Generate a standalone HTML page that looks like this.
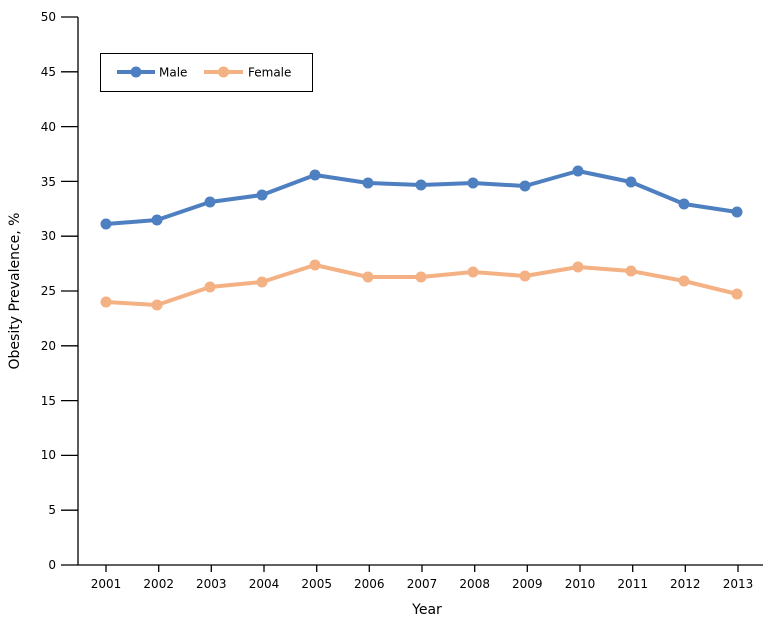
<!DOCTYPE html>
<html><head><meta charset="utf-8"><style>
html,body{margin:0;padding:0;background:#fff;}
svg{display:block;font-family:"DejaVu Sans","Liberation Sans",sans-serif;}
</style></head><body>
<svg width="768" height="620" viewBox="0 0 768 620" xmlns="http://www.w3.org/2000/svg">
<g stroke="#000" stroke-width="1.3" fill="none">
<line x1="78" y1="17" x2="78" y2="565"/>
<line x1="61" y1="565" x2="763" y2="565"/>
<line x1="61" y1="17" x2="78" y2="17"/>
<line x1="61" y1="71.8" x2="78" y2="71.8"/>
<line x1="61" y1="126.6" x2="78" y2="126.6"/>
<line x1="61" y1="181.4" x2="78" y2="181.4"/>
<line x1="61" y1="236.2" x2="78" y2="236.2"/>
<line x1="61" y1="291" x2="78" y2="291"/>
<line x1="61" y1="345.8" x2="78" y2="345.8"/>
<line x1="61" y1="400.6" x2="78" y2="400.6"/>
<line x1="61" y1="455.4" x2="78" y2="455.4"/>
<line x1="61" y1="510.2" x2="78" y2="510.2"/>
<line x1="106" y1="565" x2="106" y2="572"/><line x1="158.7" y1="565" x2="158.7" y2="572"/><line x1="211.3" y1="565" x2="211.3" y2="572"/><line x1="264" y1="565" x2="264" y2="572"/><line x1="316.7" y1="565" x2="316.7" y2="572"/><line x1="369.3" y1="565" x2="369.3" y2="572"/><line x1="422" y1="565" x2="422" y2="572"/><line x1="474.7" y1="565" x2="474.7" y2="572"/><line x1="527.3" y1="565" x2="527.3" y2="572"/><line x1="580" y1="565" x2="580" y2="572"/><line x1="632.7" y1="565" x2="632.7" y2="572"/><line x1="685.3" y1="565" x2="685.3" y2="572"/><line x1="738" y1="565" x2="738" y2="572"/>
</g>
<g font-size="12" fill="#000" text-anchor="end">
<text x="56" y="21">50</text><text x="56" y="76">45</text><text x="56" y="131">40</text><text x="56" y="186">35</text><text x="56" y="240">30</text><text x="56" y="295">25</text><text x="56" y="350">20</text><text x="56" y="405">15</text><text x="56" y="459">10</text><text x="56" y="514">5</text><text x="56" y="569">0</text>
</g>
<g font-size="12" fill="#000" text-anchor="middle">
<text x="106" y="588">2001</text><text x="158.7" y="588">2002</text><text x="211.3" y="588">2003</text><text x="264" y="588">2004</text><text x="316.7" y="588">2005</text><text x="369.3" y="588">2006</text><text x="422" y="588">2007</text><text x="474.7" y="588">2008</text><text x="527.3" y="588">2009</text><text x="580" y="588">2010</text><text x="632.7" y="588">2011</text><text x="685.3" y="588">2012</text><text x="738" y="588">2013</text>
</g>
<text x="427" y="614" font-size="14" text-anchor="middle">Year</text>
<text transform="translate(19,291) rotate(-90)" font-size="14" text-anchor="middle">Obesity Prevalence, %</text>
<polyline fill="none" stroke="#4e7fc0" stroke-width="4" stroke-linejoin="round" points="106,224 157,220 210,202 262,195 315,175 368,183 421,185 473,183 525,186 578,171 631,182 684,204 737,212"/>
<g fill="#4e7fc0"><circle cx="106" cy="224" r="5.5"/><circle cx="157" cy="220" r="5.5"/><circle cx="210" cy="202" r="5.5"/><circle cx="262" cy="195" r="5.5"/><circle cx="315" cy="175" r="5.5"/><circle cx="368" cy="183" r="5.5"/><circle cx="421" cy="185" r="5.5"/><circle cx="473" cy="183" r="5.5"/><circle cx="525" cy="186" r="5.5"/><circle cx="578" cy="171" r="5.5"/><circle cx="631" cy="182" r="5.5"/><circle cx="684" cy="204" r="5.5"/><circle cx="737" cy="212" r="5.5"/></g>
<polyline fill="none" stroke="#f4b183" stroke-width="4" stroke-linejoin="round" points="106,302 157,305 210,287 262,282 315,265 368,277 421,277 473,272 525,276 578,267 631,271 684,281 737,294"/>
<g fill="#f4b183"><circle cx="106" cy="302" r="5.5"/><circle cx="157" cy="305" r="5.5"/><circle cx="210" cy="287" r="5.5"/><circle cx="262" cy="282" r="5.5"/><circle cx="315" cy="265" r="5.5"/><circle cx="368" cy="277" r="5.5"/><circle cx="421" cy="277" r="5.5"/><circle cx="473" cy="272" r="5.5"/><circle cx="525" cy="276" r="5.5"/><circle cx="578" cy="267" r="5.5"/><circle cx="631" cy="271" r="5.5"/><circle cx="684" cy="281" r="5.5"/><circle cx="737" cy="294" r="5.5"/></g>
<rect x="100.5" y="53.5" width="212" height="38" fill="#fff" stroke="#000" stroke-width="1"/>
<line x1="117" y1="72" x2="155" y2="72" stroke="#4e7fc0" stroke-width="4"/>
<circle cx="136" cy="72" r="5.5" fill="#4e7fc0"/>
<text x="159" y="76.5" font-size="12">Male</text>
<line x1="204" y1="72" x2="243" y2="72" stroke="#f4b183" stroke-width="4"/>
<circle cx="223.5" cy="72" r="5.5" fill="#f4b183"/>
<text x="248" y="76.5" font-size="12">Female</text>
</svg>
</body></html>
